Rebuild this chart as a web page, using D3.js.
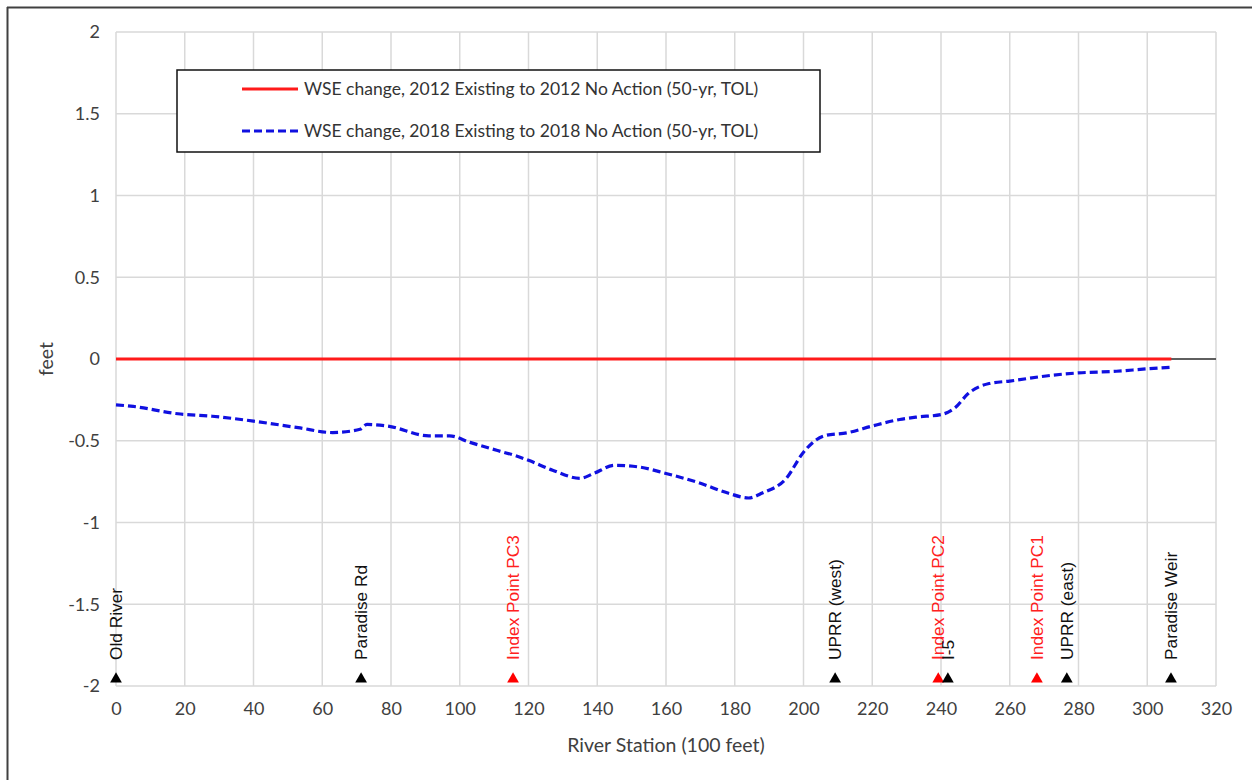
<!DOCTYPE html>
<html>
<head>
<meta charset="utf-8">
<script src="https://cdn.jsdelivr.net/npm/d3@7"></script>
<style>
  html, body { margin: 0; padding: 0; background: #fff; }
  svg { display: block; }
  .tick text { font-family: Lato, "Open Sans", sans-serif; fill: #404040; }
</style>
</head>
<body>
<svg id="chart" width="1252" height="780"></svg>
<script>
// River stations (100 feet) and WSE change (feet)
const stations2018 = [0, 5, 18, 28, 40, 53, 63, 71, 73, 79, 91, 97, 103, 111, 116, 120, 127, 135, 139, 145, 152, 160, 170, 178, 184, 188, 195, 200, 206, 213, 220, 228, 233, 240, 244, 248, 254, 260, 272, 280, 291, 300, 307];
const wse2018 = [-0.28, -0.29, -0.335, -0.35, -0.38, -0.42, -0.45, -0.43, -0.40, -0.41, -0.47, -0.47, -0.51, -0.56, -0.59, -0.62, -0.68, -0.73, -0.70, -0.65, -0.66, -0.70, -0.76, -0.82, -0.85, -0.82, -0.73, -0.57, -0.47, -0.45, -0.41, -0.37, -0.355, -0.34, -0.30, -0.21, -0.15, -0.135, -0.10, -0.085, -0.075, -0.06, -0.05];

const stations2012 = [0, 307];
const wse2012 = [0, 0];

const seriesNames = [
  "WSE change, 2012 Existing to 2012 No Action (50-yr, TOL)",
  "WSE change, 2018 Existing to 2018 No Action (50-yr, TOL)"
];

// Landmarks along the river
const landmarkNames = ["Old River", "Paradise Rd", "Index Point PC3", "UPRR (west)", "Index Point PC2", "I-5", "Index Point PC1", "UPRR (east)", "Paradise Weir"];
const landmarkStations = [0, 71.3, 115.5, 209.2, 239.2, 242, 267.9, 276.6, 306.9];

const xTicks = d3.range(0, 321, 20);
const yTicks = [-2, -1.5, -1, -0.5, 0, 0.5, 1, 1.5, 2];

const svg = d3.select("#chart");
const W = 1252, H = 780;
const plot = { left: 116, right: 1216, top: 32, bottom: 686 };

const x = d3.scaleLinear().domain([0, 320]).range([plot.left, plot.right]);
const y = d3.scaleLinear().domain([-2, 2]).range([plot.bottom, plot.top]);

// outer frame (top and left edges visible)
svg.append("line").attr("x1", 7).attr("x2", W).attr("y1", 7.5).attr("y2", 7.5)
  .attr("stroke", "#404040").attr("stroke-width", 2);
svg.append("line").attr("x1", 7.5).attr("x2", 7.5).attr("y1", 7).attr("y2", H)
  .attr("stroke", "#404040").attr("stroke-width", 2);

// gridlines
const grid = svg.append("g");
grid.selectAll("line.v").data(xTicks).join("line")
  .attr("x1", d => x(d)).attr("x2", d => x(d))
  .attr("y1", plot.top).attr("y2", plot.bottom)
  .attr("stroke", "#d9d9d9").attr("stroke-width", 1.5);
grid.selectAll("line.h").data(yTicks).join("line")
  .attr("x1", plot.left).attr("x2", plot.right)
  .attr("y1", d => y(d)).attr("y2", d => y(d))
  .attr("stroke", "#d9d9d9").attr("stroke-width", 1.5);

// axes (labels only)
const xAxis = svg.append("g")
  .attr("transform", `translate(0,${plot.bottom})`)
  .call(d3.axisBottom(x).tickValues(xTicks).tickSize(0).tickPadding(16).tickFormat(d3.format("d")));
xAxis.select(".domain").remove();
xAxis.selectAll("text").attr("font-size", 18);

const yAxis = svg.append("g")
  .attr("transform", `translate(${plot.left},0)`)
  .call(d3.axisLeft(y).tickValues(yTicks).tickSize(0).tickPadding(16).tickFormat(d => String(d)));
yAxis.select(".domain").remove();
yAxis.selectAll("text").attr("font-size", 18);

// zero line
svg.append("line").attr("x1", x(0)).attr("x2", x(320)).attr("y1", y(0)).attr("y2", y(0))
  .attr("stroke", "#333").attr("stroke-width", 1.5);

// axis titles
svg.append("text").attr("x", (plot.left + plot.right) / 2).attr("y", 752)
  .attr("text-anchor", "middle").attr("font-family", "Lato, sans-serif").attr("font-size", 19.5)
  .attr("fill", "#404040").text("River Station (100 feet)");
svg.append("text").attr("transform", `translate(53,${y(0)}) rotate(-90)`)
  .attr("text-anchor", "middle").attr("font-family", "Lato, sans-serif").attr("font-size", 19.5)
  .attr("fill", "#404040").text("feet");

// series lines
const line = d3.line().x(d => x(d[0])).y(d => y(d[1]));
svg.append("path")
  .datum(stations2012.map((s, i) => [s, wse2012[i]]))
  .attr("d", line).attr("fill", "none").attr("stroke", "#ff1a1a").attr("stroke-width", 3);
svg.append("path")
  .datum(stations2018.map((s, i) => [s, wse2018[i]]))
  .attr("d", line.curve(d3.curveMonotoneX)).attr("fill", "none")
  .attr("stroke", "#1010e0").attr("stroke-width", 3.2).attr("stroke-dasharray", "8,4");

// landmark markers and labels
const lm = svg.append("g");
landmarkNames.forEach((name, i) => {
  const col = name.startsWith("Index Point") ? "#ff0000" : "#000000";
  const cx = x(landmarkStations[i]);
  lm.append("path")
    .attr("d", d3.symbol(d3.symbolTriangle, 60)())
    .attr("transform", `translate(${cx},${plot.bottom - 7})`)
    .attr("fill", col);
  lm.append("text")
    .attr("transform", `translate(${cx + 6},${plot.bottom - 26}) rotate(-90)`)
    .attr("font-family", "'Liberation Sans', Arial, sans-serif").attr("font-size", 17.3)
    .attr("fill", name.startsWith("Index Point") ? "#ff2020" : "#111")
    .text(name);
});

// legend
const lg = svg.append("g");
lg.append("rect").attr("x", 177).attr("y", 70).attr("width", 643).attr("height", 82)
  .attr("fill", "#fff").attr("stroke", "#111").attr("stroke-width", 1.5);
const legendRows = [
  { name: seriesNames[0], color: "#ff1a1a", dash: null, yy: 89 },
  { name: seriesNames[1], color: "#1010e0", dash: "8,4", yy: 131 }
];
legendRows.forEach(r => {
  lg.append("line").attr("x1", 242).attr("x2", 298).attr("y1", r.yy).attr("y2", r.yy)
    .attr("stroke", r.color).attr("stroke-width", 3).attr("stroke-dasharray", r.dash);
  lg.append("text").attr("x", 304).attr("y", r.yy).attr("dy", "0.35em")
    .attr("font-family", "Lato, sans-serif").attr("font-size", 17.5).attr("fill", "#333")
    .text(r.name);
});
</script>
</body>
</html>
